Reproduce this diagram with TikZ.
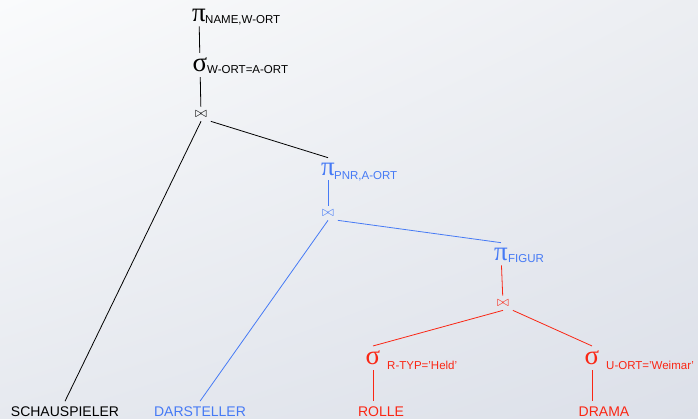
\documentclass[tikz,border=0pt]{standalone}
\usepackage{fontspec}
\setmainfont{Liberation Sans}
\newfontfamily\greekfont{Liberation Serif}
\usetikzlibrary{shadings}
\definecolor{treeblue}{RGB}{70,122,245}
\definecolor{treered}{RGB}{250,38,20}
\definecolor{bgul}{RGB}{250,251,252}
\definecolor{bgur}{RGB}{236,238,242}
\definecolor{bgll}{RGB}{230,233,239}
\definecolor{bglr}{RGB}{220,224,233}

\begin{document}
\begin{tikzpicture}[x=1pt,y=-1pt]

 \tikzset{
    op/.style={inner sep=0pt, outer sep=5pt, font=\greekfont\fontsize{27}{27}\selectfont},
    sub/.style={inner sep=0pt, anchor=base west, font=\fontsize{11.5}{12}\selectfont},
    joinop/.style={inner sep=0pt, outer sep=4pt, font=\fontsize{15}{15}\selectfont},
    leaf/.style={inner sep=0pt, outer sep=5pt, anchor=base, font=\fontsize{14}{14}\selectfont},
    conn/.style={line width=0.8pt},
  }

  % background
  \shade[upper left=bgul, upper right=bgur, lower left=bgll, lower right=bglr]
    (0,0) rectangle (698,419);
  \useasboundingbox (0,0) rectangle (698,419);

  % top part
  \node[op] (p1) at (199,15) {π};
  \node[sub] (p1n) at (205,24) {NAME,W-ORT};
  \node[op] (s1) at (200,65) {σ};
  \node[sub] (s1n) at (207,74) {W-ORT=A-ORT};
  \node[joinop] (j1) at (201,114) {$\bowtie$};
  \node[leaf] (schau) at (65,416) {SCHAUSPIELER};

  % blue part
  \node[op, treeblue] (p2) at (328,169) {π};
  \node[sub, treeblue] (p2n) at (334,180) {PNR,A-ORT};
  \node[joinop, treeblue] (j2) at (328,213) {$\bowtie$};
  \node[leaf, treeblue] (darst) at (200,416) {DARSTELLER};
  \node[op, treeblue] (p3) at (501,254) {π};
  \node[sub, treeblue] (p3n) at (508,263) {FIGUR};

  % red part
  \node[joinop, treered] (j3) at (503,303) {$\bowtie$};
  \node[op, treered] (s2) at (373,358) {σ};
  \node[sub, treered] (s2n) at (387,369) {R-TYP='Held'};
  \node[op, treered] (s3) at (592,358) {σ};
  \node[sub, treered] (s3n) at (606,369) {U-ORT='Weimar'};
  \node[leaf, treered] (rolle) at (381,416) {ROLLE};
  \node[leaf, treered] (drama) at (604,416) {DRAMA};

  \draw[conn] (p1) -- (s1);
  \draw[conn] (s1) -- (j1);
  \draw[conn] (j1.south) -- (schau.north);
  \draw[conn] (j1.south east) -- (p2.north);
  \draw[conn, treeblue] (p2) -- (j2);
  \draw[conn, treeblue] (j2.south) -- (darst.north);
  \draw[conn, treeblue] (j2.south east) -- (p3.north);
  \draw[conn, treered] (p3) -- (j3);
  \draw[conn, treered] (j3.south) -- (s2.north);
  \draw[conn, treered] (j3.south east) -- (s3.north);
  \draw[conn, treered] (s2.south) -- (s2.south |- rolle.north);
  \draw[conn, treered] (s3.south) -- (s3.south |- drama.north);
\end{tikzpicture}
\end{document}
